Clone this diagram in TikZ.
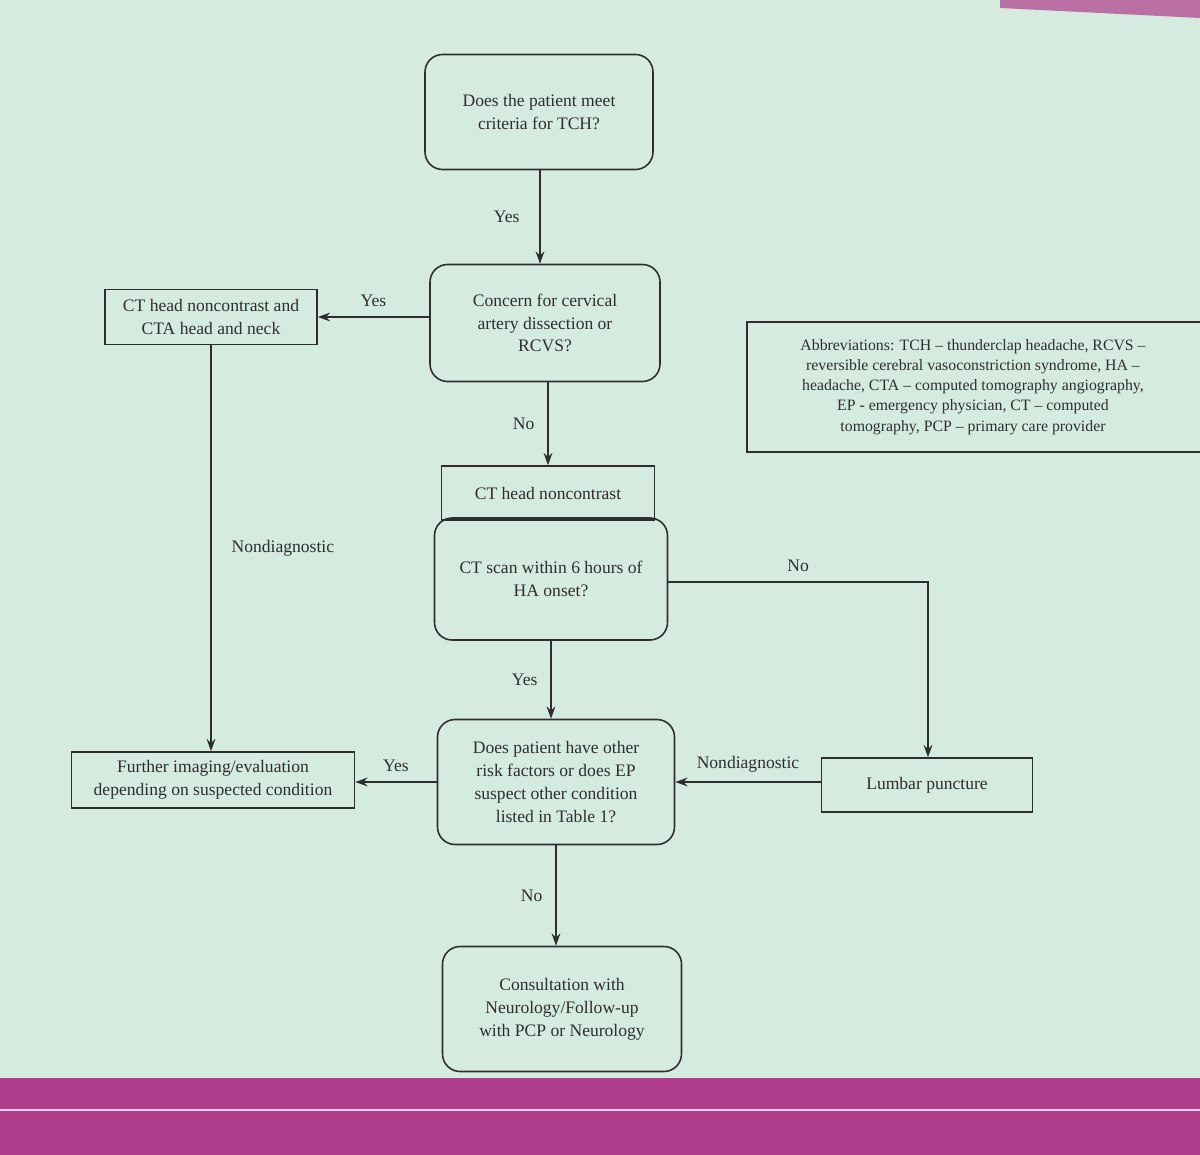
\documentclass[tikz,border=0pt]{standalone}
\usepackage{fontspec}
\setmainfont{Liberation Serif}
\usetikzlibrary{arrows.meta}
\definecolor{bg}{HTML}{D5EBE0}
\definecolor{mag}{HTML}{B03C8C}
\definecolor{ink}{HTML}{2E2E2E}
\begin{document}
\begin{tikzpicture}[x=0.02cm,y=-0.02cm,
  box/.style={draw=ink,line width=0.9pt,align=center,text=ink,font=\fontsize{10}{13}\selectfont,inner sep=0pt},
  rbox/.style={box,rounded corners=10pt},
  arr/.style={draw=ink,line width=0.8pt,-{Stealth[length=7pt,width=5pt]}},
  lab/.style={text=ink,font=\fontsize{10}{13}\selectfont}]
\useasboundingbox (0,0) rectangle (1200,1155);
\fill[bg] (0,0) rectangle (1200,1155);
\fill[mag!70!bg] (1000,0) -- (1200,0) -- (1200,18) -- (1000,8) -- cycle;
\fill[mag] (0,1078) rectangle (1200,1155);
\draw[white!80!mag,line width=1pt] (0,1110) -- (1200,1110);

\node[rbox,minimum width=228*0.02cm,minimum height=115*0.02cm] (A) at (539,112) {Does the patient meet\\criteria for TCH?};
\node[rbox,minimum width=230*0.02cm,minimum height=117*0.02cm] (B) at (545,323) {Concern for cervical\\artery dissection or\\RCVS?};
\node[box,minimum width=212*0.02cm,minimum height=55*0.02cm] (C) at (211,317) {CT head noncontrast and\\CTA head and neck};
\node[box,minimum width=213*0.02cm,minimum height=54*0.02cm] (D) at (548,493) {CT head noncontrast};
\node[rbox,minimum width=233*0.02cm,minimum height=122*0.02cm] (E) at (551,579) {CT scan within 6 hours of\\HA onset?};
\node[rbox,minimum width=237*0.02cm,minimum height=125*0.02cm] (F) at (556,782) {Does patient have other\\risk factors or does EP\\suspect other condition\\listed in Table 1?};
\node[box,minimum width=283*0.02cm,minimum height=56*0.02cm] (G) at (213,780) {Further imaging/evaluation\\depending on suspected condition};
\node[box,minimum width=211*0.02cm,minimum height=54*0.02cm] (H) at (927,785) {Lumbar puncture};
\node[rbox,minimum width=239*0.02cm,minimum height=125*0.02cm] (I) at (562,1009) {Consultation with\\Neurology/Follow-up\\with PCP or Neurology};

\draw[ink,line width=0.9pt] (1200,322) -- (747,322) -- (747,452) -- (1200,452);
\node[lab,align=center,font=\fontsize{9}{11.5}\selectfont] (K) at (973,387) {Abbreviations: TCH -- thunderclap headache, RCVS --\\reversible cerebral vasoconstriction syndrome, HA --\\headache, CTA -- computed tomography angiography,\\EP - emergency physician, CT -- computed\\tomography, PCP -- primary care provider};

\coordinate (cA) at (540,170);
\draw[arr] (A.south -| cA) -- (B.north -| cA) node[lab,midway,left=8pt] {Yes};
\draw[arr] (B.west |- C) -- (C.east) node[lab,midway,above=2pt] {Yes};
\draw[arr] (D.north |- B.south) -- (D.north) node[lab,midway,left=4pt] {No};
\draw[arr] (C.south) -- (C.south |- G.north) node[lab,midway,right=8pt] {Nondiagnostic};
\coordinate (eh) at (928,582);
\draw[arr] (E.east |- eh) -- (eh) node[lab,midway,above=2pt] {No} -- (H.north -| eh);
\draw[arr] (E.south) -- (F.north -| E.south) node[lab,midway,left=4pt] {Yes};
\draw[arr] (F.west) -- (G.east |- F.west) node[lab,midway,above=2pt] {Yes};
\draw[arr] (H.west |- F.east) -- (F.east) node[lab,midway,above=2pt] {Nondiagnostic};
\draw[arr] (F.south) -- (F.south |- I.north) node[lab,midway,left=4pt] {No};
\end{tikzpicture}
\end{document}
